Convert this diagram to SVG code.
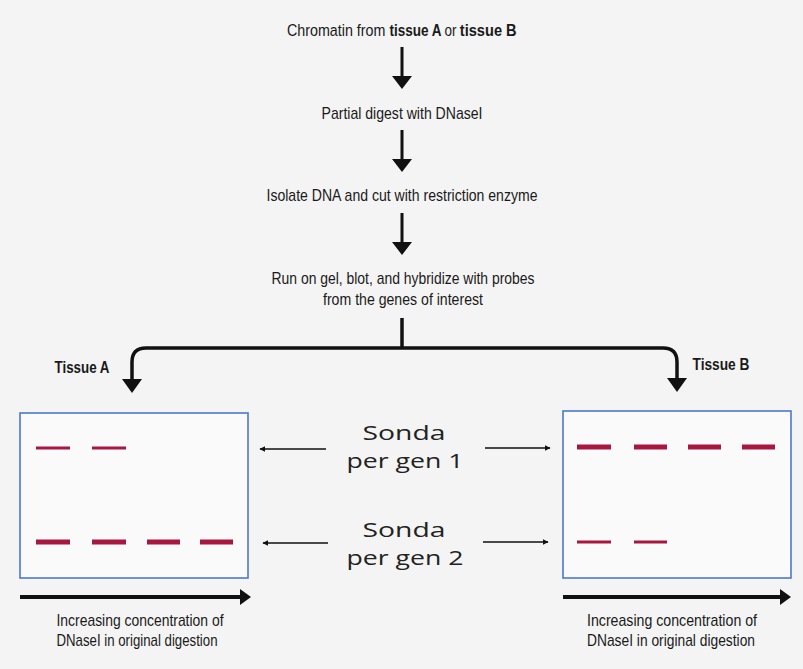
<svg xmlns="http://www.w3.org/2000/svg" width="803" height="669" viewBox="0 0 803 669">
<defs>
<style>
.t{font-family:"Liberation Sans",Arial,sans-serif;font-size:17px;fill:#1a1a1a;text-anchor:middle}
.l{text-anchor:start}
.b{font-weight:bold}
.s{font-family:"Open Sans","Noto Sans",sans-serif;font-size:20.5px;fill:#222;text-anchor:middle}
.gel{fill:#fafafa;stroke:#4a78cc;stroke-width:1.6}
.band{stroke:#a8173f;stroke-linecap:butt}
.thin{stroke-width:3}
.thick{stroke-width:5}
.ln{fill:none;stroke:#111}
</style>
<marker id="sm" viewBox="0 0 10 10" refX="9" refY="5" markerWidth="6" markerHeight="6" markerUnits="userSpaceOnUse" orient="auto">
<path d="M0,0 L10,5 L0,10 z" fill="#111"/>
</marker>
</defs>
<rect width="803" height="669" fill="#f4f4f4"/>

<g id="step1" transform="translate(287,36) scale(0.8,1)">
<text class="t l" x="0" y="0" textLength="123" lengthAdjust="spacingAndGlyphs">Chromatin from</text>
<text class="t l b" x="128" y="0" textLength="65" lengthAdjust="spacingAndGlyphs">tissue A</text>
<text class="t l" x="197" y="0" textLength="15" lengthAdjust="spacingAndGlyphs">or</text>
<text class="t l b" x="216" y="0" textLength="71" lengthAdjust="spacingAndGlyphs">tissue B</text>
</g>
<g id="step2">
<text class="t" x="402" y="119" textLength="161" lengthAdjust="spacingAndGlyphs">Partial digest with DNaseI</text>
</g>
<g id="step3">
<text class="t" x="402" y="201" textLength="271" lengthAdjust="spacingAndGlyphs">Isolate DNA and cut with restriction enzyme</text>
</g>
<g id="step4">
<text class="t" x="403" y="284" textLength="263" lengthAdjust="spacingAndGlyphs">Run on gel, blot, and hybridize with probes</text>
<text class="t" x="403" y="305" textLength="160" lengthAdjust="spacingAndGlyphs">from the genes of interest</text>
</g>
<g id="labelA">
<text class="t b" x="82" y="373" textLength="55" lengthAdjust="spacingAndGlyphs">Tissue A</text>
</g>
<g id="labelB">
<text class="t b" x="721" y="370" textLength="57" lengthAdjust="spacingAndGlyphs">Tissue B</text>
</g>

<g id="gelA">
<rect class="gel" x="20" y="413" width="228" height="165"/>
<line class="band thin" x1="36" y1="448" x2="70" y2="448"/>
<line class="band thin" x1="92" y1="448" x2="126" y2="448"/>
<line class="band thick" x1="36" y1="542" x2="70" y2="542"/>
<line class="band thick" x1="92" y1="542" x2="126" y2="542"/>
<line class="band thick" x1="147" y1="542" x2="180" y2="542"/>
<line class="band thick" x1="200" y1="542" x2="233" y2="542"/>
</g>
<g id="gelB">
<rect class="gel" x="563" y="411" width="228" height="167"/>
<line class="band thick" x1="577" y1="447" x2="611" y2="447"/>
<line class="band thick" x1="634" y1="447" x2="667" y2="447"/>
<line class="band thick" x1="688" y1="447" x2="721" y2="447"/>
<line class="band thick" x1="742" y1="447" x2="775" y2="447"/>
<line class="band thin" x1="577" y1="542" x2="611" y2="542"/>
<line class="band thin" x1="634" y1="542" x2="667" y2="542"/>
</g>

<g id="probe1">
<text class="s" x="404" y="440" textLength="83" lengthAdjust="spacingAndGlyphs">Sonda</text>
<text class="s" x="405" y="468" textLength="117" lengthAdjust="spacingAndGlyphs">per gen 1</text>
</g>
<g id="probe2">
<text class="s" x="404" y="537" textLength="83" lengthAdjust="spacingAndGlyphs">Sonda</text>
<text class="s" x="405" y="565" textLength="117" lengthAdjust="spacingAndGlyphs">per gen 2</text>
</g>

<g id="captionA">
<text class="t" x="140" y="626" textLength="167" lengthAdjust="spacingAndGlyphs">Increasing concentration of</text>
<text class="t" x="137" y="646" textLength="161" lengthAdjust="spacingAndGlyphs">DNaseI in original digestion</text>
</g>
<g id="captionB">
<text class="t" x="672" y="626" textLength="170" lengthAdjust="spacingAndGlyphs">Increasing concentration of</text>
<text class="t" x="671" y="646" textLength="168" lengthAdjust="spacingAndGlyphs">DNaseI in original digestion</text>
</g>

<g id="connectors">
<path d="M400.5,47 H403.5 V76 H412 L402,89 L392,76 H400.5 Z" fill="#111"/>
<path d="M400.5,130 H403.5 V159 H412 L402,172 L392,159 H400.5 Z" fill="#111"/>
<path d="M400.5,213 H403.5 V242 H412 L402,255 L392,242 H400.5 Z" fill="#111"/>
<path class="ln" stroke-width="3.5" d="M402,318 V348"/>
<path class="ln" stroke-width="3.5" d="M132,381 V362 Q132,348 146,348 H663 Q677,348 677,362 V380"/>
<path d="M122,379 H142 L132,393 Z" fill="#111"/>
<path d="M667,378 H687 L677,392 Z" fill="#111"/>
<path d="M20,595 H240 V589 L251,597 L240,605 V599 H20 Z" fill="#111"/>
<path d="M563,595 H780 V589 L791,597 L780,605 V599 H563 Z" fill="#111"/>
<line class="ln" stroke-width="1.6" x1="326" y1="449" x2="260" y2="449" marker-end="url(#sm)"/>
<line class="ln" stroke-width="1.6" x1="485" y1="448" x2="550" y2="448" marker-end="url(#sm)"/>
<line class="ln" stroke-width="1.6" x1="328" y1="543" x2="263" y2="543" marker-end="url(#sm)"/>
<line class="ln" stroke-width="1.6" x1="483" y1="542" x2="548" y2="542" marker-end="url(#sm)"/>
</g>
</svg>
